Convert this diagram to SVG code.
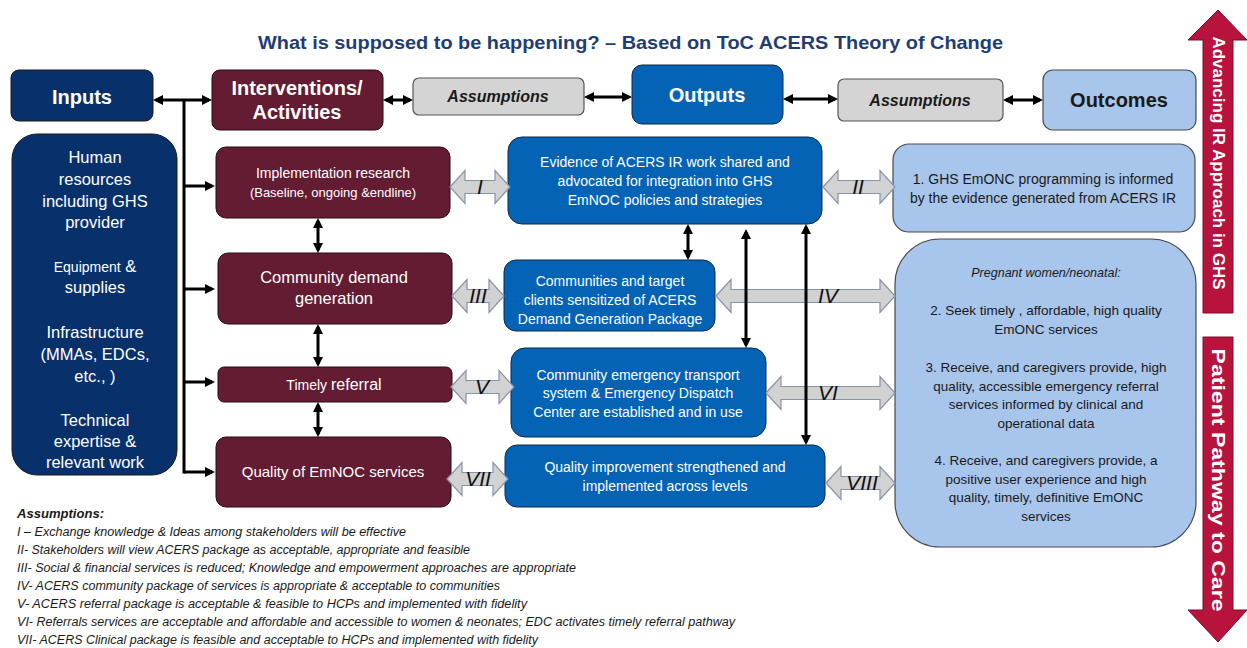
<svg xmlns="http://www.w3.org/2000/svg" width="1247" height="648" viewBox="0 0 1247 648">
<defs>
<marker id="ah" viewBox="0 0 10 10" refX="7" refY="5" markerWidth="10" markerHeight="11" markerUnits="userSpaceOnUse" orient="auto-start-reverse">
<path d="M0,0 L10,5 L0,10 z" fill="#000"/>
</marker>
<style>
text{font-family:"Liberation Sans",Arial,sans-serif}
.navy{fill:#08316B;stroke:#1a1a1a;stroke-width:1}
.maroon{fill:#641C32;stroke:#2a0a12;stroke-width:1}
.blue{fill:#0563B5;stroke:#0c2a4a;stroke-width:1}
.lblue{fill:#A8C5EB;stroke:#4a4a4a;stroke-width:1.2}
.gray{fill:#D4D4D4;stroke:#555;stroke-width:1.2}
.wt{fill:#fff;text-anchor:middle}
.dk{fill:#1a1a1a;text-anchor:middle}
.hd{font-weight:bold;font-size:20px}
.as{font-weight:bold;font-style:italic;font-size:16px;fill:#1a1a1a;text-anchor:middle}
.blk{stroke:#000;stroke-width:3;fill:none;marker-start:url(#ah);marker-end:url(#ah)}
.one{stroke:#000;stroke-width:3;fill:none;marker-end:url(#ah)}
.ga{fill:#D2D2D2;stroke:#8594A8;stroke-width:1.2}
.rn{font-style:italic;font-size:21px;fill:#111;text-anchor:middle}
.note{font-style:italic;font-size:12.5px;fill:#1a1a1a}
.red{fill:#B8133D;stroke:#7E0C2A;stroke-width:1}
</style>
</defs>
<rect width="1247" height="648" fill="#fff"/>

<text x="258" y="49" font-size="19" font-weight="bold" fill="#1F3D73" textLength="745" lengthAdjust="spacingAndGlyphs">What is supposed to be happening? – Based on ToC ACERS Theory of Change</text>

<!-- header nodes -->
<g id="inputs"><rect class="navy" x="11" y="70" width="142" height="51" rx="8"/><text class="wt hd" x="82" y="104">Inputs</text></g>
<g id="interventions"><rect class="maroon" x="212" y="70" width="171" height="60" rx="8"/><text class="wt hd" x="297" y="95">Interventions/</text><text class="wt hd" x="297" y="119">Activities</text></g>
<g id="assumptions1"><rect class="gray" x="413" y="78" width="171" height="37" rx="6"/><text class="as" x="498" y="102">Assumptions</text></g>
<g id="outputs"><rect class="blue" x="632" y="65" width="151" height="59" rx="10"/><text class="wt hd" x="707" y="102">Outputs</text></g>
<g id="assumptions2"><rect class="gray" x="838" y="79" width="165" height="42" rx="6"/><text class="as" x="920" y="106">Assumptions</text></g>
<g id="outcomes"><rect class="lblue" x="1043" y="70" width="153" height="60" rx="10"/><text class="dk hd" x="1119" y="107">Outcomes</text></g>

<!-- inputs list -->
<g id="input-list"><rect class="navy" x="12" y="134" width="165" height="341" rx="25"/>
<g class="wt" font-size="16.5">
<text x="95" y="163">Human</text>
<text x="95" y="185">resources</text>
<text x="95" y="207">including GHS</text>
<text x="95" y="228">provider</text>
<text x="95" y="272"><tspan font-size="14">Equipment</tspan> &amp;</text>
<text x="95" y="293">supplies</text>
<text x="95" y="338">Infrastructure</text>
<text x="95" y="360">(MMAs, EDCs,</text>
<text x="95" y="382">etc., )</text>
<text x="95" y="426">Technical</text>
<text x="95" y="447">expertise &amp;</text>
<text x="95" y="468">relevant work</text>
</g></g>

<!-- activities -->
<g id="act-ir"><rect class="maroon" x="216" y="147" width="234" height="71" rx="10"/><text class="wt" font-size="14" x="333" y="178">Implementation research</text><text class="wt" font-size="13" x="333" y="197">(Baseline, ongoing &amp;endline)</text></g>
<g id="act-cdg"><rect class="maroon" x="218" y="253" width="234" height="71" rx="10"/><text class="wt" font-size="16.5" x="334" y="283">Community demand</text><text class="wt" font-size="16.5" x="334" y="304">generation</text></g>
<g id="act-ref"><rect class="maroon" x="218" y="367" width="234" height="35" rx="6"/><text class="wt" x="334" y="390"><tspan font-size="14">Timely </tspan><tspan font-size="16">referral</tspan></text></g>
<g id="act-q"><rect class="maroon" x="216" y="437" width="235" height="70" rx="10"/><text class="wt" font-size="15" x="333" y="477">Quality of EmNOC  services</text></g>

<!-- outputs -->
<g id="out-ev"><rect class="blue" x="508" y="137" width="314" height="87" rx="14"/><text class="wt" font-size="14" x="665" y="167">Evidence of ACERS IR work shared and</text><text class="wt" font-size="14" x="665" y="186">advocated for integration into GHS</text><text class="wt" font-size="14" x="665" y="205">EmNOC policies and strategies</text></g>
<g id="out-com"><rect class="blue" x="504" y="260" width="211" height="71" rx="12"/><text class="wt" font-size="14" x="610" y="286">Communities and target</text><text class="wt" font-size="14" x="610" y="305">clients sensitized of ACERS</text><text class="wt" font-size="14" x="610" y="324">Demand Generation Package</text></g>
<g id="out-tr"><rect class="blue" x="511" y="348" width="255" height="89" rx="14"/><text class="wt" font-size="14" x="638" y="380">Community emergency transport</text><text class="wt" font-size="14" x="638" y="398">system &amp; Emergency Dispatch</text><text class="wt" font-size="14" x="638" y="417">Center are established and in use</text></g>
<g id="out-qi"><rect class="blue" x="505" y="445" width="320" height="62" rx="12"/><text class="wt" font-size="14" x="665" y="472">Quality improvement strengthened and</text><text class="wt" font-size="14" x="665" y="491">implemented across levels</text></g>

<!-- outcomes -->
<g id="oc1"><rect class="lblue" x="893" y="144" width="302" height="88" rx="16"/><text class="dk" font-size="14" x="1043" y="184">1. GHS EmONC programming is informed</text><text class="dk" font-size="14" x="1043" y="203">by the evidence generated from ACERS IR</text></g>
<g id="oc2"><rect class="lblue" x="895" y="239" width="301" height="308" rx="45"/>
<g class="dk" font-size="13.5">
<text x="1046" y="277" font-style="italic" font-size="12.5">Pregnant women/neonatal:</text>
<text x="1046" y="315">2. Seek timely , affordable, high quality</text>
<text x="1046" y="334">EmONC services</text>
<text x="1046" y="372">3. Receive, and caregivers provide, high</text>
<text x="1046" y="391">quality, accessible emergency referral</text>
<text x="1046" y="409">services informed by clinical and</text>
<text x="1046" y="428">operational data</text>
<text x="1046" y="465">4. Receive, and caregivers provide, a</text>
<text x="1046" y="484">positive user experience and high</text>
<text x="1046" y="502">quality, timely, definitive EmONC</text>
<text x="1046" y="521">services</text>
</g></g>

<!-- side arrows -->
<g id="side-up"><path class="red" d="M1218,10 L1247,40 L1233,40 L1233,313 L1203,313 L1203,40 L1188,40 Z"/><text transform="translate(1218,163) rotate(90)" y="5.5" fill="#fff" font-weight="bold" font-size="16" text-anchor="middle" textLength="253" lengthAdjust="spacingAndGlyphs">Advancing IR Approach in GHS</text></g>
<g id="side-down"><path class="red" d="M1203,337 L1233,337 L1233,610 L1247,610 L1218,642 L1188,610 L1203,610 Z"/><text transform="translate(1218,480) rotate(90)" y="6" fill="#fff" font-weight="bold" font-size="18" text-anchor="middle" textLength="263" lengthAdjust="spacingAndGlyphs">Patient Pathway to Care</text></g>

<!-- connectors -->
<g id="connectors">
<g id="assumption-arrows">
<polygon class="ga" points="450,187 465,170.5 465,180.5 495,180.5 495,170.5 510,187 495,203.5 495,193.5 465,193.5 465,203.5"/>
<polygon class="ga" points="823,187 838,170.5 838,180.5 880,180.5 880,170.5 895,187 880,203.5 880,193.5 838,193.5 838,203.5"/>
<polygon class="ga" points="452,296 467,279.5 467,289.5 489,289.5 489,279.5 504,296 489,312.5 489,302.5 467,302.5 467,312.5"/>
<polygon class="ga" points="716,296 731,279.5 731,289.5 880,289.5 880,279.5 895,296 880,312.5 880,302.5 731,302.5 731,312.5"/>
<polygon class="ga" points="451,387 466,370.5 466,380.5 499,380.5 499,370.5 514,387 499,403.5 499,393.5 466,393.5 466,403.5"/>
<polygon class="ga" points="766,393 781,376.5 781,386.5 880,386.5 880,376.5 895,393 880,409.5 880,399.5 781,399.5 781,409.5"/>
<polygon class="ga" points="447,479 462,462.5 462,472.5 493,472.5 493,462.5 508,479 493,495.5 493,485.5 462,485.5 462,495.5"/>
<polygon class="ga" points="826,483 841,466.5 841,476.5 880,476.5 880,466.5 895,483 880,499.5 880,489.5 841,489.5 841,499.5"/>
<text class="rn" x="480" y="194">I</text>
<text class="rn" x="858" y="194">II</text>
<text class="rn" x="478" y="303">III</text>
<text class="rn" x="828" y="303">IV</text>
<text class="rn" x="482" y="394">V</text>
<text class="rn" x="828" y="400">VI</text>
<text class="rn" x="478" y="486">VII</text>
<text class="rn" x="862" y="490">VIII</text>
</g>
<line class="blk" x1="156" y1="100" x2="209" y2="100"/>
<line x1="184" y1="100" x2="184" y2="473.5" stroke="#000" stroke-width="3"/>
<line class="one" x1="184" y1="186" x2="212" y2="186"/>
<line class="one" x1="184" y1="289" x2="212" y2="289"/>
<line class="one" x1="184" y1="382" x2="212" y2="382"/>
<line class="one" x1="184" y1="472" x2="212" y2="472"/>
<line class="blk" x1="386" y1="100" x2="410" y2="100"/>
<line class="blk" x1="587" y1="97" x2="629" y2="97"/>
<line class="blk" x1="786" y1="99" x2="835" y2="99"/>
<line class="blk" x1="1006" y1="100" x2="1040" y2="100"/>
<line class="blk" x1="318" y1="221" x2="318" y2="250"/>
<line class="blk" x1="318" y1="327" x2="318" y2="364"/>
<line class="blk" x1="318" y1="405" x2="318" y2="434"/>
<line class="blk" x1="688" y1="227" x2="688" y2="257"/>
<line class="blk" x1="746" y1="232" x2="746" y2="345"/>
<line class="blk" x1="806" y1="227" x2="806" y2="442"/>
</g>

<!-- assumptions notes -->
<g id="notes">
<text x="17" y="518" font-weight="bold" font-style="italic" font-size="13" fill="#1a1a1a" textLength="87" lengthAdjust="spacingAndGlyphs">Assumptions:</text>
<text class="note" x="17" y="536" textLength="389" lengthAdjust="spacingAndGlyphs">I – Exchange knowledge &amp; Ideas among stakeholders will be effective</text>
<text class="note" x="17" y="554" textLength="453" lengthAdjust="spacingAndGlyphs">II- Stakeholders will view ACERS package as acceptable, appropriate and feasible</text>
<text class="note" x="17" y="572" textLength="559" lengthAdjust="spacingAndGlyphs">III- Social &amp; financial services is reduced; Knowledge and empowerment approaches are appropriate</text>
<text class="note" x="17" y="590" textLength="483" lengthAdjust="spacingAndGlyphs">IV- ACERS community package of services is appropriate &amp; acceptable to communities</text>
<text class="note" x="17" y="608" textLength="510" lengthAdjust="spacingAndGlyphs">V-  ACERS referral package is acceptable &amp; feasible to HCPs and implemented with fidelity</text>
<text class="note" x="17" y="626" textLength="718" lengthAdjust="spacingAndGlyphs">VI- Referrals services are acceptable and affordable and accessible to women &amp; neonates; EDC activates timely referral pathway</text>
<text class="note" x="17" y="644" textLength="521" lengthAdjust="spacingAndGlyphs">VII- ACERS Clinical package is feasible and acceptable to HCPs and implemented with fidelity</text>
</g>
</svg>
